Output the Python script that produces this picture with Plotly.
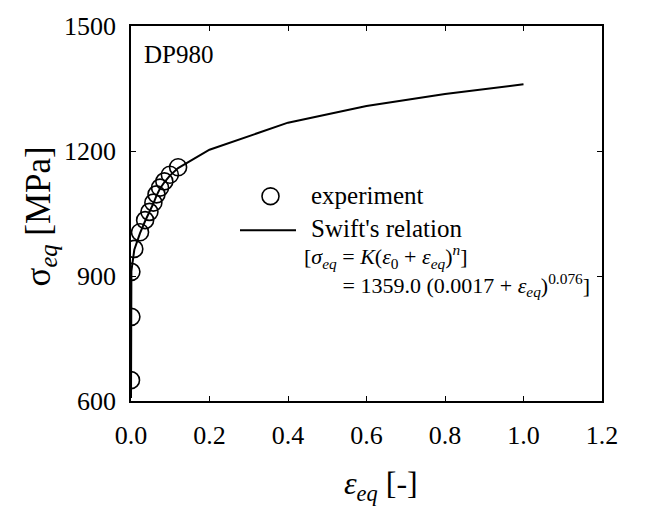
import plotly.graph_objects as go

# experimental points (strain, stress)
exp_strain = [0.0, 0.001, 0.001, 0.0084, 0.023, 0.036, 0.047, 0.057, 0.065, 0.074, 0.085, 0.099, 0.12]
exp_stress = [650, 802, 910, 965, 1005, 1034, 1054, 1076, 1096, 1112, 1127, 1143, 1161]

# Swift's relation curve as drawn
fit_strain = [0.0, 0.0005, 0.001, 0.0084, 0.023, 0.036, 0.047, 0.057, 0.065, 0.074, 0.085, 0.099, 0.12, 0.2, 0.4, 0.6, 0.8, 1.0]
fit_stress = [607, 800, 912, 963, 1003, 1032, 1053, 1074, 1093, 1110, 1125, 1141, 1159, 1203, 1268, 1308, 1337, 1360]

x_ticks = [0.0, 0.2, 0.4, 0.6, 0.8, 1.0, 1.2]
y_ticks = [600, 900, 1200, 1500]

FONT = "Liberation Serif"
W, H = 664, 507
L, R, T, B = 131, 602, 21, 401


def px(x):
    return (x - L) / (R - L)


def py(y):
    return (B - y) / (B - T)


fig = go.Figure()
fig.add_trace(go.Scatter(x=fit_strain, y=fit_stress, mode="lines",
                         line=dict(color="black", width=2), showlegend=False))
fig.add_trace(go.Scatter(x=exp_strain, y=exp_stress, mode="markers",
                         marker=dict(symbol="circle-open", size=17, color="black",
                                     line=dict(width=1.6, color="black")),
                         showlegend=False))

axis_common = dict(showgrid=False, zeroline=False, showline=True, linecolor="black",
                   linewidth=1.5, mirror="ticks", ticks="inside", ticklen=5,
                   tickcolor="black", tickwidth=1.2,
                   tickfont=dict(family=FONT, size=26, color="black"))

fig.update_xaxes(range=[0, 1.2], tickvals=x_ticks, ticktext=["%.1f" % v for v in x_ticks],
                 ticklabelstandoff=10, **axis_common)
fig.update_yaxes(range=[600, 1500], tickvals=y_ticks, ticktext=[str(v) for v in y_ticks],
                 ticklabelstandoff=8, **axis_common)

eq_text = ("[<i>σ</i><sub><i>eq</i></sub> = <i>K</i>(<i>ε</i><sub>0</sub> + <i>ε</i><sub><i>eq</i></sub>)<sup><i>n</i></sup>]"
           "<br>" + "\u00a0" * 7 +
           "= 1359.0 (0.0017 + <i>ε</i><sub><i>eq</i></sub>)<sup>0.076</sup>]")

ann = []
ann.append(dict(x=px(142), y=py(50), xref="paper", yref="paper", xanchor="left", yanchor="middle",
                text="DP980", showarrow=False, font=dict(family=FONT, size=25, color="black")))
ann.append(dict(x=px(309), y=py(193), xref="paper", yref="paper", xanchor="left", yanchor="middle",
                text="experiment", showarrow=False, font=dict(family=FONT, size=25, color="black")))
ann.append(dict(x=px(309), y=py(226), xref="paper", yref="paper", xanchor="left", yanchor="middle",
                text="Swift's relation", showarrow=False, font=dict(family=FONT, size=25, color="black")))
ann.append(dict(x=px(302), y=py(237), xref="paper", yref="paper", xanchor="left", yanchor="top",
                text=eq_text, align="left", showarrow=False,
                font=dict(family=FONT, size=22, color="black")))
# axis titles
ann.append(dict(x=px(381), y=py(487), xref="paper", yref="paper", xanchor="center", yanchor="middle",
                text="<i>ε</i><sub><i>eq</i></sub> [-]", showarrow=False,
                font=dict(family=FONT, size=32, color="black")))
ann.append(dict(x=px(40), y=py(214), xref="paper", yref="paper", xanchor="center", yanchor="middle",
                text="σ<sub><i>eq</i></sub> [MPa]", showarrow=False, textangle=-90,
                font=dict(family=FONT, size=35, color="black")))

shapes = [
    dict(type="circle", xref="paper", yref="paper", x0=px(262), x1=px(279), y0=py(185), y1=py(202),
         line=dict(color="black", width=1.6)),
    dict(type="line", xref="paper", yref="paper", x0=px(240), x1=px(296), y0=py(228), y1=py(228),
         line=dict(color="black", width=2)),
]

fig.update_layout(width=W, height=H, margin=dict(l=L, r=W - R, t=T, b=H - B),
                  paper_bgcolor="white", plot_bgcolor="white",
                  annotations=ann, shapes=shapes, showlegend=False)

fig.write_html("out.html")
